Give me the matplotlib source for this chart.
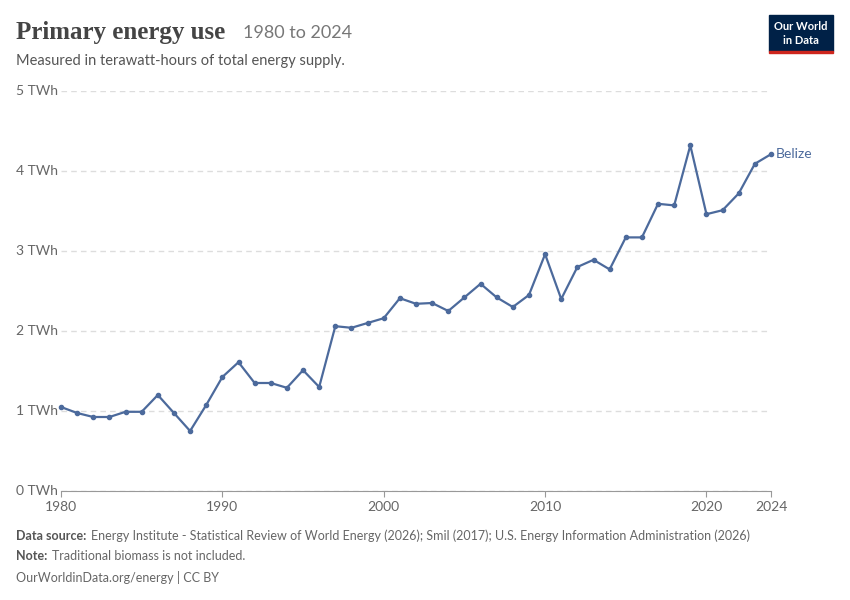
import matplotlib
matplotlib.use("Agg")
import matplotlib.pyplot as plt
from matplotlib.patches import Rectangle
from matplotlib.transforms import blended_transform_factory

years = list(range(1980, 2025))
values = [1.05,0.975,0.925,0.925,0.99,0.99,1.2,0.975,0.75,1.075,1.425,1.61,1.35,1.35,1.29,1.51,1.3,
          2.06,2.04,2.1,2.16,2.41,2.34,2.35,2.25,2.42,2.59,2.42,2.3,2.45,2.96,2.4,2.8,2.89,2.77,
          3.17,3.17,3.59,3.57,4.32,3.46,3.51,3.72,4.09,4.21]
yticks = [0,1,2,3,4,5]
xticks = [1980,1990,2000,2010,2020,2024]

plt.rcParams['font.family'] = ['Lato', 'DejaVu Sans']
fig = plt.figure(figsize=(8.5,6), dpi=100)
ax = fig.add_axes([61/850, 109/600, 710/850, 400/600])
color = '#4c6a9c'
ax.plot(years, values, color=color, lw=1.6, marker='o', ms=3, clip_on=False, zorder=3)
ax.set_xlim(1980, 2024)
ax.set_ylim(0, 5)
ax.set_yticks(yticks)
ax.set_yticklabels([])
ax.set_xticks(xticks)
ax.set_xticklabels([str(t) for t in xticks])
for s in ['top','right','left']:
    ax.spines[s].set_visible(False)
ax.spines['bottom'].set_color('#999999')
ax.tick_params(axis='y', length=0)
ax.tick_params(axis='x', length=4, color='#999999', labelsize=10, colors='#666666')
tr = blended_transform_factory(fig.transFigure, ax.transData)
for t in yticks:
    fig.text(16/850, t, f"{t} TWh", transform=tr, fontsize=10, color='#666666', va='center', ha='left')
ax.grid(axis='y', color='#dddddd', ls=(0,(4,3)), lw=1)
ax.set_axisbelow(True)
ax.text(2024.3, values[-1], 'Belize', color=color, fontsize=10, va='center', ha='left', clip_on=False)

fig.text(16/850, 1-32/600, 'Primary energy use', fontsize=18, fontweight='bold', color='#444444',
         family=['Liberation Serif'], va='center')
fig.text(243/850, 1-33/600, '1980 to 2024', fontsize=13, color='#777777', va='center')
fig.text(16/850, 1-61/600, 'Measured in terawatt-hours of total energy supply.', fontsize=10.5, color='#555555', va='center')
fig.patches.append(Rectangle((769/850, 1-51/600), 64/850, 36/600, transform=fig.transFigure, color='#002147'))
fig.patches.append(Rectangle((769/850, 1-53/600), 64/850, 2/600, transform=fig.transFigure, color='#ce261e'))
fig.text(801/850, 1-26/600, 'Our World', fontsize=8, color='white', ha='center', va='center', fontweight='bold')
fig.text(801/850, 1-40/600, 'in Data', fontsize=8, color='white', ha='center', va='center', fontweight='bold')
fig.text(16/850, 1-536/600, 'Data source:', fontsize=9, color='#555555', va='center', fontweight='bold')
fig.text(91/850, 1-536/600, 'Energy Institute - Statistical Review of World Energy (2026); Smil (2017); U.S. Energy Information Administration (2026)', fontsize=9, color='#666666', va='center')
fig.text(16/850, 1-556/600, 'Note:', fontsize=9, color='#555555', va='center', fontweight='bold')
fig.text(52/850, 1-556/600, 'Traditional biomass is not included.', fontsize=9, color='#666666', va='center')
fig.text(16/850, 1-577/600, 'OurWorldinData.org/energy | CC BY', fontsize=9, color='#666666', va='center')
fig.savefig('out.png', dpi=100)
